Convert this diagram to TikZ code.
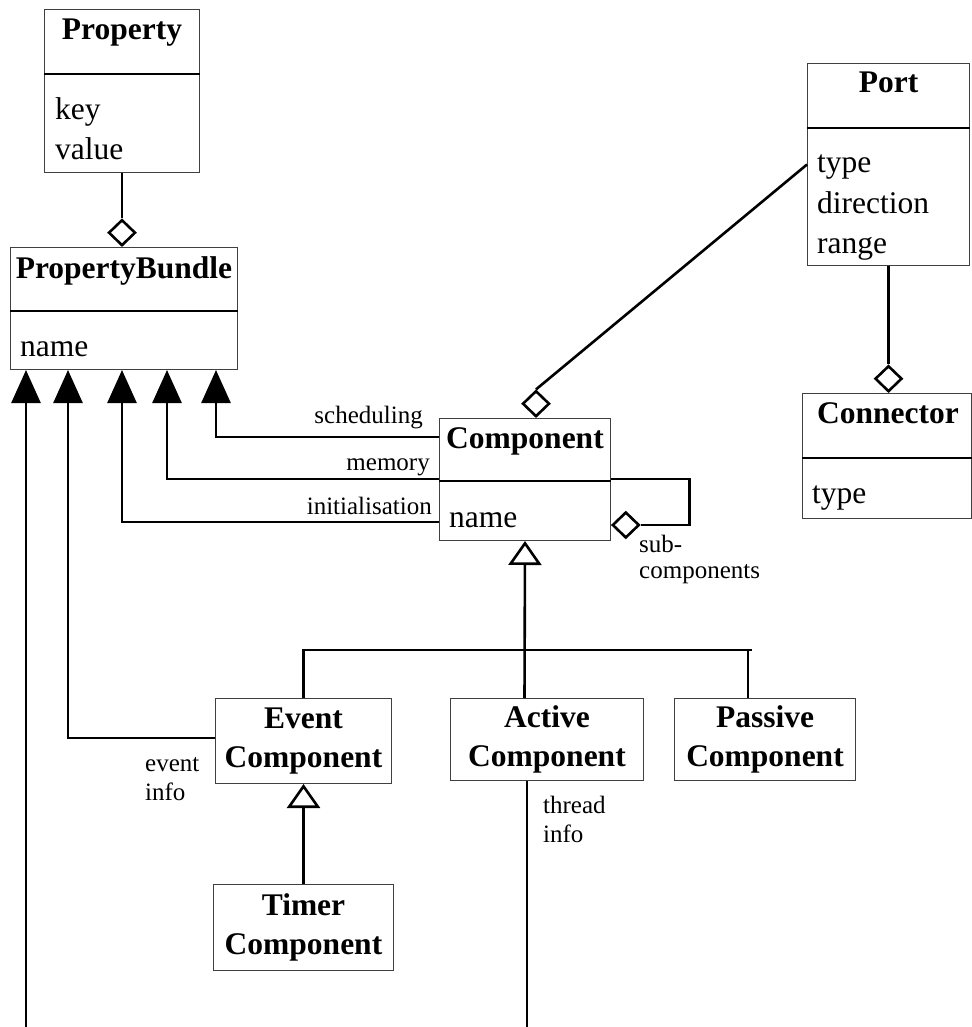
\documentclass[tikz,border=0pt]{standalone}
\usepackage{fontspec}
\setmainfont{Liberation Serif}
\usetikzlibrary{arrows.meta,calc,shapes.geometric}
\begin{document}
\begin{tikzpicture}[x=1pt,y=-1pt,
 cbox/.style={draw=black!75, line width=1pt, rectangle, inner sep=0pt, anchor=north west},
 tbox/.style={cbox, align=center, font=\fontsize{31.5}{39}\selectfont\bfseries},
 ttl/.style={font=\fontsize{31.5}{39}\selectfont\bfseries, inner sep=0pt, anchor=base},
 attr/.style={font=\fontsize{31.5}{39}\selectfont, inner sep=0pt, anchor=base west},
 lbl/.style={font=\fontsize{25}{29}\selectfont, inner sep=0pt},
 sepline/.style={line width=2.5pt},
 conn/.style={line width=2.6pt},
 aggr/.style={diamond, draw, line width=2.6pt, minimum width=27pt, minimum height=26pt, inner sep=0pt, fill=white},
 inh/.style={conn, -{Triangle[length=33pt,width=29pt]}},
 gen/.style={conn, -{Triangle[open,length=24pt,width=33pt]}},
]
\useasboundingbox (0,0) rectangle (971,1027);

% ---------- Property ----------
\node[cbox, minimum width=155, minimum height=163] (prop) at (44,9) {};
\node[ttl] (propT) at ($(prop.north)+(0,31)$) {Property};
\draw[sepline] ($(prop.north west)+(0,65)$) -- ($(prop.north east)+(0,65)$);
\node[attr] (propA1) at ($(prop.north west)+(11,111)$) {key};
\node[attr] (propA2) at ($(prop.north west)+(11,151)$) {value};

% ---------- PropertyBundle ----------
\node[cbox, minimum width=227, minimum height=122] (pb) at (10,247) {};
\node[ttl] (pbT) at ($(pb.north)+(0,31)$) {PropertyBundle};
\draw[sepline] ($(pb.north west)+(0,64)$) -- ($(pb.north east)+(0,64)$);
\node[attr] (pbA1) at ($(pb.north west)+(10,109)$) {name};

% ---------- Port ----------
\node[cbox, minimum width=162, minimum height=202] (port) at (807,63) {};
\node[ttl] (portT) at ($(port.north)+(0,30)$) {Port};
\draw[sepline] ($(port.north west)+(0,65)$) -- ($(port.north east)+(0,65)$);
\node[attr] (portA1) at ($(port.north west)+(10,110)$) {type};
\node[attr] (portA2) at ($(port.north west)+(10,150)$) {direction};
\node[attr] (portA3) at ($(port.north west)+(10,190)$) {range};

% ---------- Connector ----------
\node[cbox, minimum width=169, minimum height=125] (conn) at (802,393) {};
\node[ttl] (connT) at ($(conn.north)+(1,30)$) {Connector};
\draw[sepline] ($(conn.north west)+(0,65)$) -- ($(conn.north east)+(0,65)$);
\node[attr] (connA1) at ($(conn.north west)+(10,110)$) {type};

% ---------- Component ----------
\node[cbox, minimum width=171, minimum height=122] (comp) at (439,418) {};
\node[ttl] (compT) at ($(comp.north)+(0,30)$) {Component};
\draw[sepline] ($(comp.north west)+(0,63)$) -- ($(comp.north east)+(0,63)$);
\node[attr] (compA1) at ($(comp.north west)+(10,109)$) {name};

% ---------- sub classes ----------
\node[tbox, minimum width=176, minimum height=85] (ev) at (215,698) {Event\\Component};
\node[tbox, minimum width=193, minimum height=82] (act) at (450,698) {Active\\Component};
\node[tbox, minimum width=181, minimum height=82] (pas) at (674,698) {Passive\\Component};
\node[tbox, minimum width=180, minimum height=86] (tim) at (213,884) {Timer\\Component};

% ---------- free ends ----------
\coordinate (bl) at (26,1027);
\coordinate (tl) at (527,1027);

% ---------- aggregation ----------
\node[aggr, anchor=south] (dPB) at (prop.south |- pb.north) {};
\node[aggr, anchor=south] (dConn) at (port.south |- conn.north) {};
\node[aggr, anchor=south] (dComp) at ($(comp.north west)+(97,0)$) {};
\node[aggr, anchor=west] (dSelf) at ($(comp.north east)+(0,107)$) {};

\draw[conn] (prop.south) -- (dPB.north);
\draw[conn] (port.south) -- (dConn.north);
\draw[conn] (dComp.north) -- (port.west);
\draw[conn] (dSelf.east) -- ++(49,0) |- ($(comp.north east)+(0,61)$);

% ---------- associations to PropertyBundle ----------
\draw[inh] (bl) -- (bl |- pb.south);
\draw[inh] ($(ev.north west)+(0,40)$) -| ($(pb.south west)+(58,0)$);
\draw[inh] ($(comp.north west)+(0,104)$) -| ($(pb.south west)+(112,0)$);
\draw[inh] ($(comp.north west)+(0,61)$) -| ($(pb.south west)+(157,0)$);
\draw[inh] ($(comp.north west)+(0,19)$) -| ($(pb.south west)+(206,0)$);

\node[lbl, anchor=base east] (lSched) at ($(comp.north west)+(-16,5)$) {scheduling};
\node[lbl, anchor=base east] (lMem) at ($(comp.north west)+(-9,52)$) {memory};
\node[lbl, anchor=base east] (lInit) at ($(comp.north west)+(-7,96)$) {initialisation};
\node[lbl, anchor=base west] (lEv1) at ($(ev.north west)+(-70,73)$) {event};
\node[lbl, anchor=base west] (lEv2) at ($(ev.north west)+(-70,102)$) {info};
\node[lbl, anchor=base west] (lTh1) at ($(act.north west)+(93,115)$) {thread};
\node[lbl, anchor=base west] (lTh2) at ($(act.north west)+(93,144)$) {info};
\node[lbl, anchor=base west] (lSub1) at ($(comp.north east)+(28,134)$) {sub-};
\node[lbl, anchor=base west] (lSub2) at ($(comp.north east)+(28,160)$) {components};

% ---------- generalisation ----------
\draw[gen] ($(act.north west)+(74.5,0)$) -- (comp.south);
\draw[conn] (ev.north) |- ($(pas.north west)+(78,-48)$);
\draw[conn] ($(pas.north west)+(74,-48)$) -- ($(pas.north west)+(74,0)$);
\draw[gen] (tim.north) -- (ev.south);
\draw[conn] ($(act.south west)+(77,0)$) -- (tl);
\end{tikzpicture}
\end{document}
